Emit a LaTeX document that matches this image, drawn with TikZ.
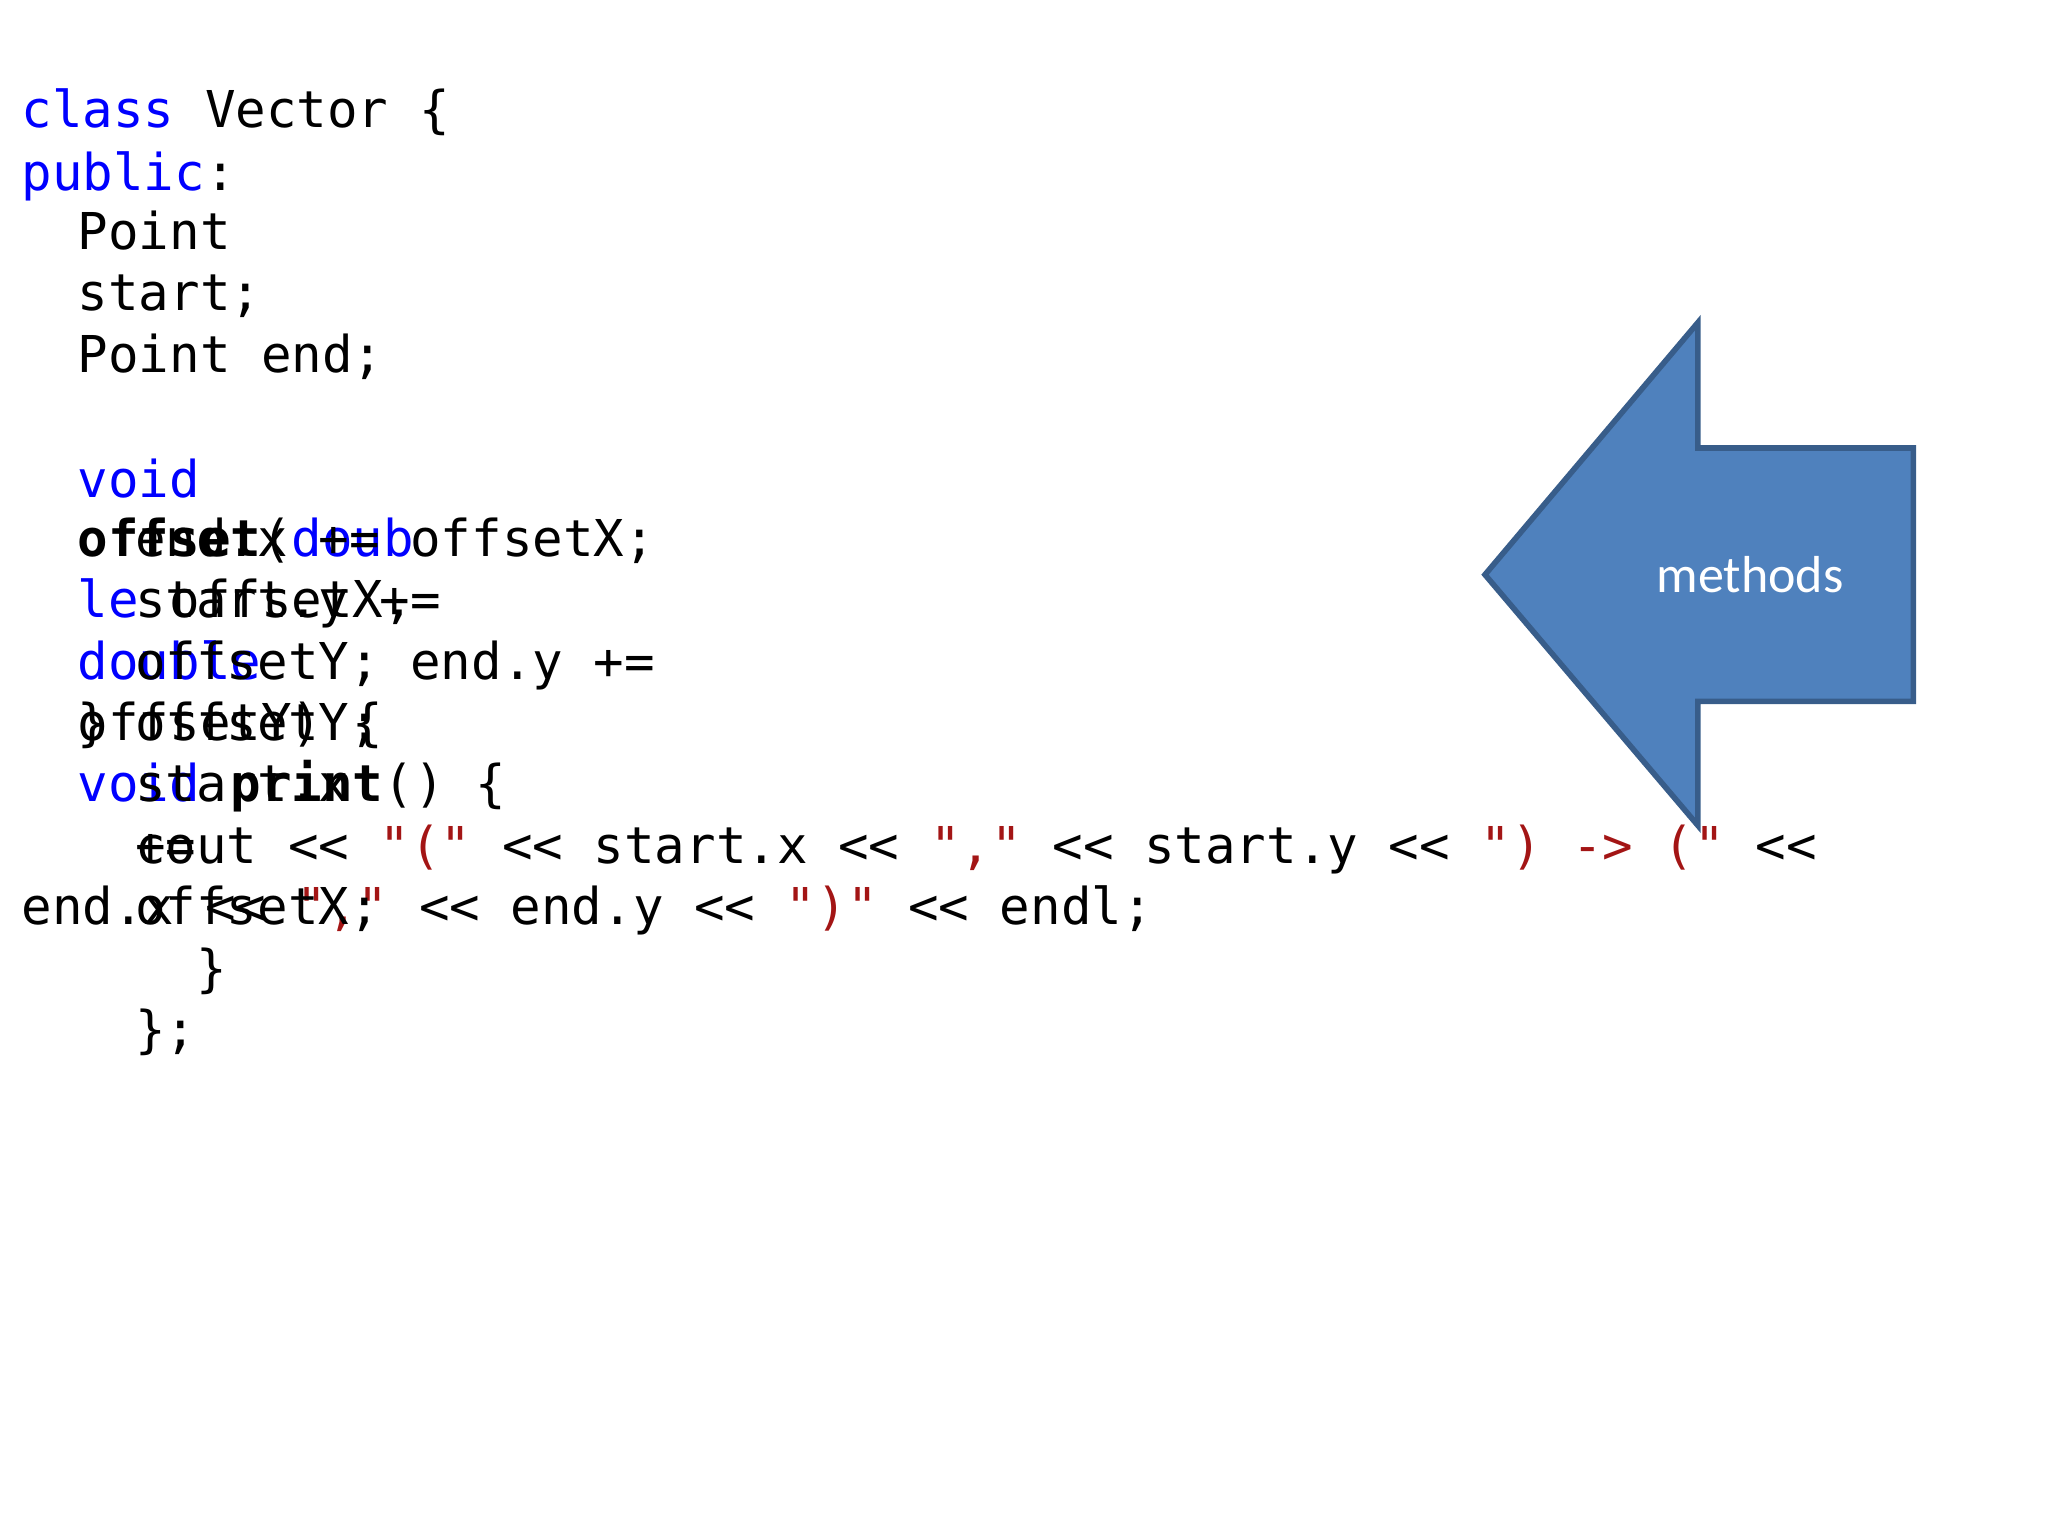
\documentclass[tikz,border=0pt]{standalone}
\usepackage{fontspec}
\setmonofont{DejaVu Sans Mono}
\newfontfamily\calib{Carlito}
\definecolor{kw}{HTML}{0000FF}
\definecolor{st}{HTML}{A31515}
\definecolor{arrfill}{HTML}{4F81BD}
\definecolor{arrline}{HTML}{385D8A}
\newcommand{\K}[1]{\textcolor{kw}{#1}}
\newcommand{\Ss}[1]{\textcolor{st}{#1}}
\begin{document}
\begin{tikzpicture}[x=0.01306cm,y=-0.01306cm,
  code/.style={anchor=base west,inner sep=0,font=\ttfamily\fontsize{14.45}{17}\selectfont}]
\useasboundingbox (0,0) rectangle (1568.1,1176.1);
\node[code] (l1) at (16,98) {\K{class} Vector \{};
\node[code] (l2) at (16,146) {\K{public}:};
\node[code] (l3) at (59,191) {Point};
\node[code] (l4) at (59,238) {start;};
\node[code] (l5) at (59,285) {Point end;};
\node[code] (l6) at (59,381) {\K{void}};
\node[code] (a1) at (59,426) {\textbf{offset}(\K{doub}};
\node[code] (a2) at (59,473) {\K{le} offsetX,};
\node[code] (a3) at (59,520) {\K{double}};
\node[code] (a4) at (59,567) {offsetY) \{};
\node[code] (a4b) at (59,567) {\}};
\node[code] (a5) at (59,614) {\K{void} \textbf{print}() \{};
\node[code] (a6) at (103,661) {cout << \Ss{"("} << start.x << \Ss{","} << start.y << \Ss{") -> ("} <<};
\node[code] (a7) at (16,708) {end.x << \Ss{","} << end.y << \Ss{")"} << endl;};
\node[code] (a8) at (150,755) {\}};
\node[code] (a9) at (103,802) {\};};
\node[code] (b1) at (103,426) {end.x += offsetX;};
\node[code] (b2) at (103,473) {start.y +=};
\node[code] (b3) at (103,520) {offsetY; end.y +=};
\node[code] (b4) at (103,567) {offsetY;};
\node[code] (b5) at (103,614) {start.x};
\node[code] (b6) at (103,661) {+=};
\node[code] (b7) at (103,708) {offsetX;};
\draw[draw=arrline,fill=arrfill,line width=1.6pt]
  (1137,440) -- (1300,247) -- (1300,343) -- (1465,343) -- (1465,537) -- (1300,537) -- (1300,632) -- cycle;
\node[text=white,font=\calib\fontsize{14.8}{18}\selectfont] (m) at (1340,440) {methods};
\end{tikzpicture}
\end{document}
